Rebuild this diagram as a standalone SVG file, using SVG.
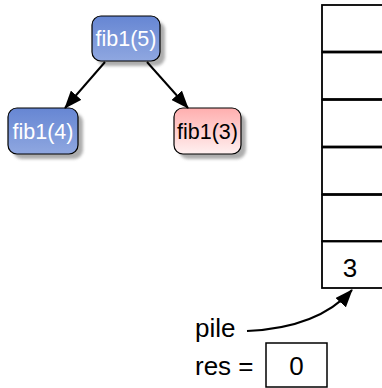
<svg xmlns="http://www.w3.org/2000/svg" width="382" height="388" viewBox="0 0 382 388">
<defs>
<linearGradient id="blue" x1="0" y1="0" x2="0" y2="1"><stop offset="0" stop-color="#6686d3"/><stop offset="1" stop-color="#8fa7e0"/></linearGradient>
<linearGradient id="pink" x1="0" y1="0" x2="0" y2="1"><stop offset="0" stop-color="#ffaeae"/><stop offset="1" stop-color="#fff0f0"/></linearGradient>
<filter id="blur" x="-20%" y="-20%" width="140%" height="140%"><feGaussianBlur stdDeviation="1.5"/></filter>
<marker id="ah" viewBox="0 0 18 14" markerWidth="18" markerHeight="14" refX="17" refY="7" orient="auto" markerUnits="userSpaceOnUse"><path d="M0,0 L18,7 L0,14 z" fill="#000"/></marker>
</defs>
<style>
.shadow{fill:#999;filter:url(#blur);opacity:0.8}
.node{stroke:#000;stroke-width:1.2}
.lbl{font-family:"Liberation Sans",Arial,sans-serif;font-size:21.5px;text-anchor:middle}
.big{font-family:"Liberation Sans",Arial,sans-serif;font-size:26px}
.cell{fill:#fff;stroke:#000;stroke-width:1.8}
.conn{stroke:#000;stroke-width:2;fill:none;marker-end:url(#ah)}
</style>
<rect width="382" height="388" fill="#fff"/>
<g id="fib5">
<rect class="shadow" x="97" y="21" width="68" height="45" rx="9"/>
<rect class="node" x="92" y="16" width="68" height="45" rx="9" fill="url(#blue)"/>
<text class="lbl" x="126" y="46" fill="#fff">fib1(5)</text>
</g>
<g id="fib4">
<rect class="shadow" x="13" y="113" width="70" height="46" rx="9"/>
<rect class="node" x="8" y="108" width="70" height="46" rx="9" fill="url(#blue)"/>
<text class="lbl" x="43" y="139" fill="#fff">fib1(4)</text>
</g>
<g id="fib3">
<rect class="shadow" x="179" y="113" width="67" height="46" rx="9"/>
<rect class="node" x="174" y="108" width="67" height="46" rx="9" fill="url(#pink)"/>
<text class="lbl" x="207.5" y="139" fill="#000">fib1(3)</text>
</g>
<g id="stack">
<rect class="cell" x="322" y="5" width="80" height="46.5"/>
<rect class="cell" x="322" y="52.5" width="80" height="46.5"/>
<rect class="cell" x="322" y="100" width="80" height="46.5"/>
<rect class="cell" x="322" y="147.5" width="80" height="46.5"/>
<rect class="cell" x="322" y="195" width="80" height="46"/>
<rect class="cell" x="322" y="241.5" width="80" height="46.5"/>
<text class="big" x="350" y="277" text-anchor="middle">3</text>
</g>
<g id="pile">
<text class="big" x="195" y="337">pile</text>
</g>
<g id="res">
<text class="big" x="195" y="375">res =</text>
<rect x="266" y="343" width="61" height="44" fill="#fff" stroke="#000" stroke-width="1.5"/>
<text class="big" x="296.5" y="375" text-anchor="middle">0</text>
</g>
<g id="connectors">
<line class="conn" x1="105" y1="62" x2="65" y2="108"/>
<line class="conn" x1="147" y1="62" x2="188" y2="108"/>
<path class="conn" d="M247,331 Q318,328 352,290"/>
</g>
</svg>
